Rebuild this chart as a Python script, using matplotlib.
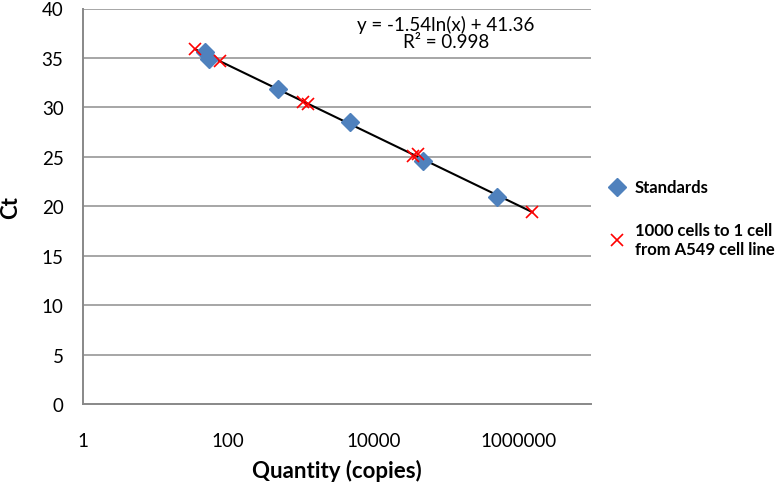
import numpy as np
import matplotlib
matplotlib.use('Agg')
import matplotlib.pyplot as plt
from matplotlib.lines import Line2D

plt.rcParams['font.family'] = ['Lato', 'DejaVu Sans']

# standards (blue diamonds)
std_qty = [48, 55, 490, 4800, 49000, 514000]
std_ct = [35.6, 34.9, 31.85, 28.5, 24.6, 20.9]

# 1000 cells -> 1 cell, A549 (red crosses)
cell_qty = [35, 78, 1080, 1270, 35800, 41900, 1.56e6]
cell_ct = [35.9, 34.7, 30.5, 30.3, 25.1, 25.3, 19.4]

# log trendline coefficients
slope, intercept = -1.54, 41.36
eq_text = "y = -1.54ln(x) + 41.36"
r2_text = "R² = 0.998"

x_ticks = [1, 100, 10000, 1000000]
y_ticks = list(range(0, 41, 5))

W, H = 780, 489
fig = plt.figure(figsize=(W / 100, H / 100), dpi=100)
ax = fig.add_axes([83 / W, 1 - 405 / H, (591 - 83) / W, (405 - 9.5) / H])

ax.set_xscale('log')
ax.set_xlim(1, 1e7)
ax.set_ylim(0, 40)

for y in y_ticks[1:]:
    ax.axhline(y, color='#a6a6a6', lw=1.4, zorder=0)

allx = std_qty + cell_qty
xs = np.logspace(np.log10(min(allx)), np.log10(max(allx)), 50)
ax.plot(xs, slope * np.log(xs) + intercept, color='black', lw=1.5, zorder=2)

ax.plot(std_qty, std_ct, 'D', color='#4f81bd', ms=9, mec='#4f81bd', zorder=3)
ax.plot(cell_qty, cell_ct, 'x', color='#ff0000', ms=9, mew=1.2, zorder=4)

ax.set_xticks(x_ticks)
ax.set_xticklabels([str(v) for v in x_ticks])
ax.xaxis.set_minor_locator(matplotlib.ticker.NullLocator())
ax.set_yticks(y_ticks)
ax.tick_params(axis='both', length=0, labelsize=13.5, colors='black')
ax.tick_params(axis='y', pad=14)
ax.tick_params(axis='x', pad=20)

for s in ['top', 'right']:
    ax.spines[s].set_visible(False)
for s in ['left', 'bottom']:
    ax.spines[s].set_color('#888888')
    ax.spines[s].set_linewidth(1.4)

ax.set_xlabel('Quantity (copies)', fontsize=16, fontweight='bold')
ax.xaxis.set_label_coords(0.5, (405 - 460) / 395.5)
ax.set_ylabel('Ct', fontsize=16, fontweight='bold')
ax.yaxis.set_label_coords((21 - 83) / 508, 0.5)

fig.text(446 / W, 1 - 25 / H, eq_text, ha='center', va='center', fontsize=13.5)
fig.text(446 / W, 1 - 43 / H, r2_text, ha='center', va='center', fontsize=13.5)

handles = [Line2D([], [], ls='none', marker='D', color='#4f81bd', ms=9),
           Line2D([], [], ls='none', marker='x', color='#ff0000', ms=9, mew=1.2)]
fig.legend(handles, ['Standards', '1000 cells to 1 cell\nfrom A549 cell line'],
           loc='upper left', bbox_to_anchor=(600 / W, 1 - 172 / H), frameon=False,
           prop={'weight': 'bold', 'size': 12}, handlelength=1.0, handletextpad=0.6,
           labelspacing=1.6, borderpad=0)

fig.savefig('out.png', dpi=100)
